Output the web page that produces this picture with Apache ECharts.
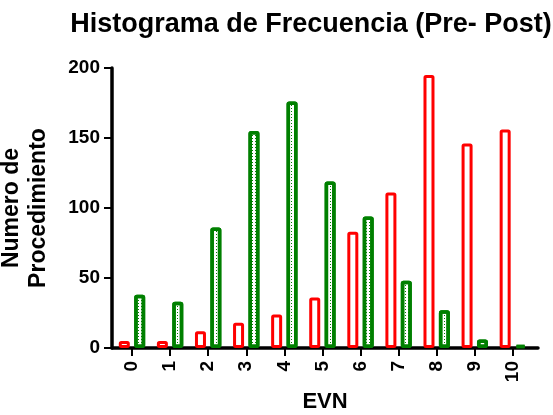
<!DOCTYPE html>
<html>
<head>
<meta charset="utf-8">
<script src="https://cdn.jsdelivr.net/npm/echarts@6/dist/echarts.min.js"></script>
<style>
  html, body { margin: 0; padding: 0; background: #fff; }
  #chart { width: 553px; height: 415px; }
</style>
</head>
<body>
<div id="chart"></div>
<script>
const categories = [0, 1, 2, 3, 4, 5, 6, 7, 8, 9, 10]
const preValues = [5, 5, 12, 18, 24, 36, 83, 111, 195, 146, 156]
const postValues = [38, 33, 86, 155, 176, 119, 94, 48, 27, 6, 2]
const yTicks = [0, 50, 100, 150, 200]

const font = 'Liberation Sans, Arial, sans-serif'

const chart = echarts.init(document.getElementById('chart'), null, { renderer: 'canvas' })

chart.setOption({
  animation: false,
  title: {
    text: 'Histograma de Frecuencia (Pre- Post)',
    left: 306,
    top: 6,
    textAlign: 'center',
    textStyle: { fontFamily: font, fontWeight: 'bold', fontSize: 27, color: '#000' }
  },
  grid: { left: 112, right: 15, top: 68, bottom: 67, containLabel: false, outerBoundsMode: 'none' },
  xAxis: {
    type: 'value',
    min: -0.525,
    max: 10.66,
    name: 'EVN',
    nameLocation: 'middle',
    nameGap: 43,
    nameTextStyle: { fontFamily: font, fontWeight: 'bold', fontSize: 22, color: '#000', verticalAlign: 'top' },
    axisLine: { show: true, lineStyle: { color: '#000', width: 3.5 } },
    axisTick: { show: true, customValues: categories, length: 8, lineStyle: { color: '#000', width: 2 } },
    axisLabel: {
      customValues: categories,
      rotate: 90,
      margin: 13,
      fontFamily: font, fontWeight: 'bold', fontSize: 19, color: '#000',
      formatter: v => String(v)
    },
    splitLine: { show: false }
  },
  yAxis: {
    type: 'value',
    min: 0,
    max: 200,
    interval: 50,
    name: 'Numero de\nProcedimiento',
    nameLocation: 'middle',
    nameGap: 60,
    nameTextStyle: { fontFamily: font, fontWeight: 'bold', fontSize: 23, color: '#000', lineHeight: 27 },
    axisLine: { show: true, onZero: false, lineStyle: { color: '#000', width: 3.5 } },
    axisTick: { show: true, length: 8, lineStyle: { color: '#000', width: 2 } },
    axisLabel: {
      margin: 12,
      fontFamily: font, fontWeight: 'bold', fontSize: 19, color: '#000',
      formatter: v => (yTicks.includes(v) ? String(v) : '')
    },
    splitLine: { show: false }
  },
  series: [
    {
      name: 'Pre',
      type: 'bar',
      barWidth: 11,
      barGap: '40%',
      data: categories.map((c, i) => [c, preValues[i]]),
      itemStyle: { color: '#fff', borderColor: '#ff0000', borderWidth: 3, borderRadius: 1 }
    },
    {
      name: 'Post',
      type: 'bar',
      barWidth: 11,
      data: categories.map((c, i) => [c, postValues[i]]),
      itemStyle: {
        color: '#fff', borderColor: '#008000', borderWidth: 3.5, borderRadius: 1,
        decal: { symbol: 'rect', symbolSize: 1, color: '#008000', dashArrayX: [1, 2], dashArrayY: [1, 2], rotation: 0 }
      }
    }
  ]
})
</script>
</body>
</html>
